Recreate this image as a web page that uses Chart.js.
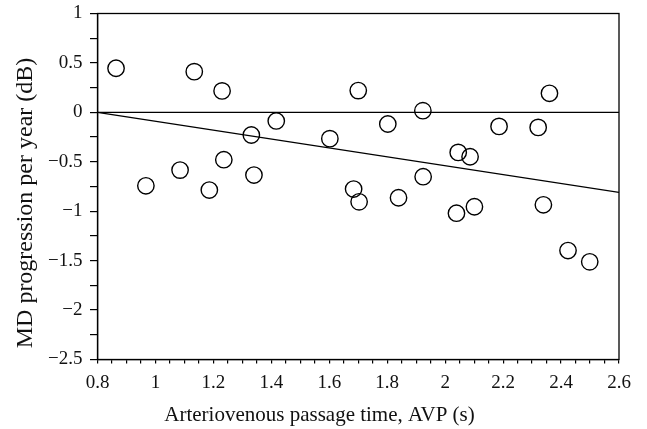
<!DOCTYPE html>
<html><head><meta charset="utf-8">
<script src="https://cdn.jsdelivr.net/npm/chart.js@4.4.1/dist/chart.umd.min.js"></script>
<style>html,body{margin:0;padding:0;background:#fff;overflow:hidden}#wrap{width:647px;height:429px;position:relative}</style>
</head><body><div id="wrap"><canvas id="c"></canvas></div>
<script>
// ---- data ----
const avpTime = [0.864, 0.967, 1.085, 1.134, 1.186, 1.230, 1.236, 1.331, 1.340, 1.417,
                 1.602, 1.700, 1.684, 1.703, 1.802, 1.839, 1.923, 1.924, 2.045, 2.086,
                 2.039, 2.101, 2.186, 2.321, 2.360, 2.339, 2.424, 2.499];
const mdProgression = [0.446, -0.743, -0.584, 0.412, -0.786, 0.217, -0.479, -0.229, -0.634, -0.087,
                       -0.266, 0.220, -0.776, -0.905, -0.118, -0.864, 0.017, -0.651, -0.405, -0.449,
                       -1.020, -0.955, -0.142, -0.152, 0.193, -0.935, -1.398, -1.512];
const zeroLineX = [0.8, 2.6];
const zeroLineY = [0, 0];
const fitLineX = [0.8, 2.6];
const fitLineY = [0.0, -0.81];
const xTickLabels = ['0.8','1','1.2','1.4','1.6','1.8','2','2.2','2.4','2.6'];
const yTickLabels = ['\u22122.5','\u22122','\u22121.5','\u22121','\u22120.5','0','0.5','1'];
const xTitle = 'Arteriovenous passage time, AVP (s)';
const yTitle = 'MD progression per year (dB)';

// ---- tick positions (major from labels, minor between) ----
const toNum = s => Number(s.replace('\u2212','-'));
const xMajor = xTickLabels.map(toNum);
const yMajor = yTickLabels.map(toNum);
const xAll = []; for (let i = 0; i <= 36; i++) xAll.push(Math.round((0.8 + i*0.05)*1000)/1000);
const yAll = []; for (let i = 0; i <= 14; i++) yAll.push(Math.round((-2.5 + i*0.25)*1000)/1000);
const labelFor = (majors, labels) => v => {
  const k = majors.findIndex(m => Math.abs(m - v) < 1e-6);
  return k >= 0 ? labels[k] : '';
};

const FONT = "'Liberation Serif', 'Times New Roman', serif";
const INK = '#111';

const framePlugin = {
  id: 'frameAndTitles',
  afterDatasetsDraw(chart) {
    const {ctx, chartArea: a} = chart;
    ctx.save();
    ctx.strokeStyle = '#000';
    ctx.lineWidth = 1.3;
    ctx.strokeRect(a.left, a.top, a.right - a.left, a.bottom - a.top);
    ctx.restore();
  },
  afterDraw(chart) {
    const {ctx} = chart;
    ctx.save();
    ctx.fillStyle = INK;
    ctx.textAlign = 'center';
    ctx.textBaseline = 'alphabetic';
    ctx.font = "21px " + FONT;
    ctx.fillText(xTitle, 319.5, 421);
    ctx.translate(31.7, 203);
    ctx.rotate(-Math.PI/2);
    ctx.font = "24px " + FONT;
    ctx.fillText(yTitle, 0, 0);
    ctx.restore();
  }
};

new Chart(document.getElementById('c'), {
  type: 'scatter',
  data: {
    datasets: [
      {
        type: 'line',
        data: zeroLineX.map((x, i) => ({x, y: zeroLineY[i]})),
        borderColor: '#000', borderWidth: 1.3, pointRadius: 0, fill: false
      },
      {
        type: 'line',
        data: fitLineX.map((x, i) => ({x, y: fitLineY[i]})),
        borderColor: '#000', borderWidth: 1.3, pointRadius: 0, fill: false
      },
      {
        data: avpTime.map((x, i) => ({x, y: mdProgression[i]})),
        pointRadius: 8.2, pointHoverRadius: 8.2,
        borderColor: '#000', borderWidth: 1.4,
        backgroundColor: 'rgba(0,0,0,0)', pointBackgroundColor: 'rgba(0,0,0,0)'
      }
    ]
  },
  options: {
    responsive: true, maintainAspectRatio: false, animation: false,
    layout: { padding: { left: 0, top: 13.5, right: 28, bottom: 0 } },
    plugins: { legend: { display: false }, tooltip: { enabled: false } },
    scales: {
      x: {
        type: 'linear', min: 0.8, max: 2.6,
        afterBuildTicks: s => { s.ticks = xAll.map(v => ({value: v})); },
        afterFit: s => { s.height = 69.5; s.paddingLeft = 0; s.paddingRight = 0; },
        grid: { drawOnChartArea: false, drawTicks: true, tickLength: 4, color: '#000', lineWidth: 1.2 },
        border: { display: true, color: '#000', width: 1.3 },
        ticks: { autoSkip: false, maxRotation: 0, padding: 8, color: INK,
                 font: { family: FONT, size: 19 }, callback: labelFor(xMajor, xTickLabels) }
      },
      y: {
        type: 'linear', min: -2.5, max: 1,
        afterBuildTicks: s => { s.ticks = yAll.map(v => ({value: v})); },
        afterFit: s => { s.width = 97.5; s.paddingTop = 0; s.paddingBottom = 0; },
        grid: { drawOnChartArea: false, drawTicks: true, tickLength: 7.5, color: '#000', lineWidth: 1.2 },
        border: { display: true, color: '#000', width: 1.3 },
        ticks: { autoSkip: false, padding: 7.5, color: INK,
                 font: { family: FONT, size: 19 }, callback: labelFor(yMajor, yTickLabels) }
      }
    }
  },
  plugins: [framePlugin]
});
</script>
</body></html>
